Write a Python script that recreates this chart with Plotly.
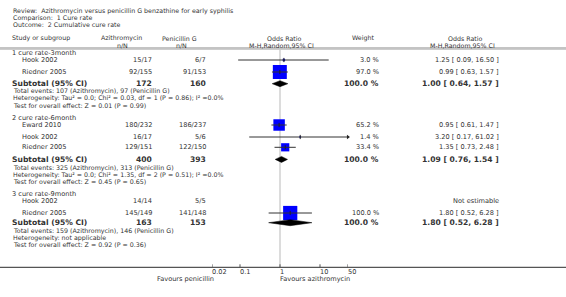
import numpy as np
import plotly.graph_objects as go

W, H = 566, 297

# ---------------- data ----------------
title_lines = ["Review:\u00a0 Azithromycin versus penicillin G benzathine for early syphilis",
               "Comparison:\u00a0 1 Cure rate",
               "Outcome:\u00a0 2 Cumulative cure rate"]

groups = ["1 cure rate-3month", "2 cure rate-6month", "3 cure rate-9month"]
study_group = [0, 0, 1, 1, 1, 2, 2]
studies = ["Hook 2002", "Riedner 2005", "Eward 2010", "Hook 2002", "Riedner 2005", "Hook 2002", "Riedner 2005"]
azi_n = ["15/17", "92/155", "180/232", "16/17", "129/151", "14/14", "145/149"]
pen_n = ["6/7", "91/153", "186/237", "5/6", "122/150", "5/5", "141/148"]
weights = [3.0, 97.0, 65.2, 1.4, 33.4, None, 100.0]
or_est = [1.25, 0.99, 0.95, 3.20, 1.35, None, 1.80]
or_lo = [0.09, 0.63, 0.61, 0.17, 0.73, None, 0.52]
or_hi = [16.50, 1.57, 1.47, 61.02, 2.48, None, 6.28]

sub_azi_total = [172, 400, 163]
sub_pen_total = [160, 393, 153]
sub_weight = [100.0, 100.0, 100.0]
sub_or = [1.00, 1.09, 1.80]
sub_lo = [0.64, 0.76, 0.52]
sub_hi = [1.57, 1.54, 6.28]
sub_events = ["Total events: 107 (Azithromycin), 97 (Penicillin G)",
              "Total events: 325 (Azithromycin), 313 (Penicillin G)",
              "Total events: 159 (Azithromycin), 146 (Penicillin G)"]
sub_het = ["Heterogeneity: Tau\u00b2 = 0.0; Chi\u00b2 = 0.03, df = 1 (P = 0.86); I\u00b2 =0.0%",
           "Heterogeneity: Tau\u00b2 = 0.0; Chi\u00b2 = 1.35, df = 2 (P = 0.51); I\u00b2 =0.0%",
           "Heterogeneity: not applicable"]
sub_test = ["Test for overall effect: Z = 0.01 (P = 0.99)",
            "Test for overall effect: Z = 0.45 (P = 0.65)",
            "Test for overall effect: Z = 0.92 (P = 0.36)"]

tick_vals = [0.02, 0.1, 1, 10, 50]
tick_labels = ["0.02", "0.1", "1", "10", "50"]
axis_min, axis_max = 0.02, 50
left_label = "Favours penicillin"
right_label = "Favours azithromycin"

# ---------------- layout positions (pixels) ----------------
group_y = [53, 118, 194]
study_y = [60, 72, 125, 137, 147.3, 201, 213]
sub_y = [83.7, 159.4, 222.7]
foot_y = [[91, 98, 105], [167.5, 174.5, 181.5], [230.8, 237.8, 244.8]]
axis_y = 267.3

X_GROUP, X_STUDY = 12, 22
X_AZI, X_PEN, X_WT, X_ORT = 152, 206, 379, 499
PLOT_L, PLOT_R = 212.04, 347.96

TXT = "#333333"
FONT = "DejaVu Sans"
FS = 6.6
FS_HEAD = 6.3
FS_SMALL = 6.3
FS_BOLD = 7.6


def fmt_or(e, l, h):
    return f"{e:.2f} [ {l:.2f}, {h:.2f} ]"


fig = go.Figure()
ann = []
shapes = []


def txt(x, y, s, anchor="left", size=FS, bold=False, xref="px"):
    if xref == "px":
        xx, xr = x / W, "paper"
    else:
        xx, xr = x, xref
    ann.append(dict(x=xx, y=y, xref=xr, yref="y", text=f"<b>{s}</b>" if bold else s,
                    showarrow=False, xanchor=anchor, yanchor="middle",
                    font=dict(family=FONT, size=size, color=TXT), borderpad=0, borderwidth=0))


# titles
for i, t in enumerate(title_lines):
    txt(13, [11, 17.5, 24][i], t, size=FS_SMALL)

# header
HY1, HY2 = 38.3, 45
txt(12, HY1, "Study or subgroup", size=FS_HEAD)
txt(121, HY1, "Azithromycin", "center", size=FS_HEAD); txt(122, HY2, "n/N", "center", size=FS_HEAD)
txt(179, HY1, "Penicillin G", "center", size=FS_HEAD); txt(181, HY2, "n/N", "center", size=FS_HEAD)
txt(284, HY1, "Odds Ratio", "center", size=FS_HEAD); txt(281, HY2, "M-H,Random,95% CI", "center", size=FS_HEAD)
txt(363, HY1, "Weight", "center", size=FS_HEAD)
txt(465, HY1, "Odds Ratio", "center", size=FS_HEAD); txt(462, HY2, "M-H,Random,95% CI", "center", size=FS_HEAD)

shapes.append(dict(type="line", xref="paper", yref="y", x0=0, x1=1, y0=48, y1=48,
                   line=dict(color="#888888", width=1)))
shapes.append(dict(type="line", xref="paper", yref="y", x0=0, x1=1, y0=49.4, y1=49.4,
                   line=dict(color="#c8c8c8", width=1)))

# reference line at OR = 1
shapes.append(dict(type="line", xref="x", yref="y", x0=np.log10(1), x1=np.log10(1), y0=49.5, y1=axis_y,
                   line=dict(color="#dcdcdc", width=2), layer="below"))

# group headings
for g, y in zip(groups, group_y):
    txt(X_GROUP, y, g)

# study rows
lmin, lmax = np.log10(axis_min), np.log10(axis_max)
for i in range(len(studies)):
    y = study_y[i]
    txt(X_STUDY, y, studies[i])
    txt(X_AZI, y, azi_n[i], "right")
    txt(X_PEN, y, pen_n[i], "right")
    if or_est[i] is None:
        txt(X_ORT, y, "Not estimable", "right")
        continue
    txt(X_WT, y, f"{weights[i]:.1f} %", "right")
    txt(X_ORT, y, fmt_or(or_est[i], or_lo[i], or_hi[i]), "right")
    lo, hi, est = np.log10(or_lo[i]), np.log10(or_hi[i]), np.log10(or_est[i])
    size = 14.2 * np.sqrt(weights[i] / 100.0)
    fig.add_trace(go.Scatter(x=[est], y=[y], mode="markers",
                             marker=dict(symbol="square", size=size, color="#0000ff",
                                         line=dict(width=0)), hoverinfo="skip"))
    fig.add_trace(go.Scatter(x=[max(lo, lmin), min(hi, lmax)], y=[y, y], mode="lines",
                             line=dict(color="#333333", width=1), hoverinfo="skip"))
    fig.add_trace(go.Scatter(x=[est], y=[y], mode="markers",
                             marker=dict(symbol="line-ns", size=3, line=dict(color="#222222", width=1)),
                             hoverinfo="skip"))
    if hi > lmax:
        fig.add_trace(go.Scatter(x=[lmax], y=[y], mode="markers",
                                 marker=dict(symbol="triangle-right", size=4, color="#222222"),
                                 hoverinfo="skip"))
    if lo < lmin:
        fig.add_trace(go.Scatter(x=[lmin], y=[y], mode="markers",
                                 marker=dict(symbol="triangle-left", size=4, color="#222222"),
                                 hoverinfo="skip"))

# subtotals
for k in range(len(groups)):
    y = sub_y[k]
    txt(X_GROUP, y, "Subtotal (95% CI)", size=FS_BOLD, bold=True)
    txt(X_AZI, y, str(sub_azi_total[k]), "right", size=FS_BOLD, bold=True)
    txt(X_PEN, y, str(sub_pen_total[k]), "right", size=FS_BOLD, bold=True)
    txt(X_WT, y, f"{sub_weight[k]:.1f} %", "right", size=FS_BOLD, bold=True)
    txt(X_ORT, y, fmt_or(sub_or[k], sub_lo[k], sub_hi[k]), "right", size=FS_BOLD, bold=True)
    lo, hi, est = np.log10(sub_lo[k]), np.log10(sub_hi[k]), np.log10(sub_or[k])
    hh = 3.0
    fig.add_trace(go.Scatter(x=[lo, est, hi, est, lo], y=[y, y - hh, y, y + hh, y],
                             mode="lines", fill="toself", fillcolor="#000000",
                             line=dict(color="#000000", width=0.5), hoverinfo="skip"))
    for j, s in enumerate([sub_events[k], sub_het[k], sub_test[k]]):
        txt(13, foot_y[k][j], s, size=FS_SMALL)

# axis
shapes.append(dict(type="line", xref="paper", yref="y", x0=0, x1=1, y0=axis_y, y1=axis_y,
                   line=dict(color="#555555", width=1.3)))
for v, lab in zip(tick_vals, tick_labels):
    lv = np.log10(v)
    shapes.append(dict(type="line", xref="x", yref="y", x0=lv, x1=lv, y0=axis_y - 3, y1=axis_y,
                       line=dict(color="#555555", width=1)))
    txt(lv, 272, lab, "left", xref="x")
txt(213.5, 278.5, left_label, "right")
txt(280, 278.5, right_label, "left")

fig.update_layout(
    width=W, height=H, margin=dict(l=0, r=0, t=0, b=0),
    paper_bgcolor="white", plot_bgcolor="white", showlegend=False,
    xaxis=dict(domain=[PLOT_L / W, PLOT_R / W], range=[lmin, lmax], visible=False, fixedrange=True),
    yaxis=dict(domain=[0, 1], range=[H, 0], visible=False, fixedrange=True),
    annotations=ann, shapes=shapes,
)
for tr in fig.data:
    tr.cliponaxis = False

fig.write_html("out.html", config={"displayModeBar": False},
               post_script="document.body.style.margin='0';document.body.style.overflow='hidden';")
